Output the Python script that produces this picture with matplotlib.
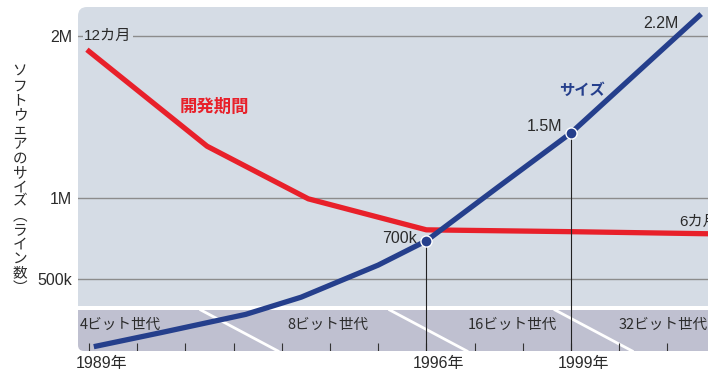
import matplotlib
matplotlib.use('Agg')
import matplotlib.pyplot as plt
from matplotlib.patches import FancyBboxPatch, Rectangle
from matplotlib.transforms import IdentityTransform, Affine2D, ScaledTranslation, blended_transform_factory

plt.rcParams['font.family'] = ['Liberation Sans', 'Noto Sans CJK JP', 'DejaVu Sans']
CJK = ['Noto Sans CJK JP', 'DejaVu Sans']

# software size (lines, in millions)
size_years = [1989.1, 1990.5, 1992.25, 1993.4, 1995.0, 1996.0, 1997.45, 1999.0, 2001.7]
size_mlines = [0.082, 0.169, 0.281, 0.387, 0.585, 0.735, 1.058, 1.400, 2.133]

# development period (months)
dev_years = [1989.0, 1991.45, 1993.55, 1996.0, 1999.0, 2001.9]
dev_months = [12.0, 8.88, 7.15, 6.13, 6.07, 6.0]

# highlighted points on the size curve
mark_years = [1996, 1999]
mark_values = [0.735, 1.400]
mark_labels = ['700k', '1.5M']

year_ticks = list(range(1989, 2002))
year_labels = [1989, 1996, 1999]

ytick_values = [0.5, 1.0, 2.0]
ytick_labels = ['500k', '1M', '2M']

generations = ['4ビット世代', '8ビット世代', '16ビット世代', '32ビット世代']
gen_bounds = [1991.32, 1995.24, 1998.67]

PANEL = '#d5dce5'
BAND = '#bfc0d0'
RED = '#e8202a'
BLUE = '#253f8c'
TXT = '#2b2b2b'

W, H = 708, 373
fig = plt.figure(figsize=(W / 100, H / 100), dpi=100)
ax = fig.add_axes([78 / W, (H - 351) / H, (W - 78) / W, 344 / H])
ax.patch.set_visible(False)
for s in ax.spines.values():
    s.set_visible(False)
ax.set_xlim(1988.772, 2001.842)
ax.set_ylim(0.0553, 2.1765)

# backgrounds, drawn in pixel space (top-left origin converted)
def px_box(x0, y0, x1, y1, color, r=0):
    if r:
        p = FancyBboxPatch((x0, H - y1), x1 - x0, y1 - y0,
                           boxstyle=f'round,pad=0,rounding_size={r}',
                           transform=IdentityTransform(), fc=color, ec='none',
                           clip_on=False, zorder=0)
    else:
        p = Rectangle((x0, H - y1), x1 - x0, y1 - y0, transform=IdentityTransform(),
                      fc=color, ec='none', clip_on=False, zorder=0)
    ax.add_patch(p)

px_box(78, 7, 760, 306, PANEL, r=9)
px_box(78, 60, 760, 306, PANEL)
px_box(78, 310, 760, 351, BAND, r=6)
px_box(78, 310, 760, 330, BAND)

band_top = (351 - 310) / 344
bt = blended_transform_factory(ax.transData, ax.transAxes)

# generation separators
for b in gen_bounds:
    ax.plot([b, b + 1.6], [band_top, 0], color='white', lw=2, transform=bt,
            clip_on=False, zorder=1)

gen_x = [1988.8, 1993.96, 1997.78, 2000.91]
gen_ha = ['left', 'center', 'center', 'center']
for g, x, ha in zip(generations, gen_x, gen_ha):
    ax.text(x, 0.0756, g, transform=bt, ha=ha, va='center', fontsize=10.5,
            color=TXT, zorder=2, family=CJK)

# year ticks inside the band
ax.vlines(year_ticks, 0, 8 / 344, transform=bt, color='#333333', lw=0.8, zorder=2)

# grid lines
for v in ytick_values:
    ax.axhline(v, color='#8c8c8c', lw=1, zorder=1)

ax.set_yticks(ytick_values)
ax.set_yticklabels(ytick_labels, fontsize=11.5, color=TXT)
ax.set_xticks(year_labels)
ax.set_xticklabels([f'{y}年' for y in year_labels], fontsize=11.5, color=TXT)
ax.tick_params(length=0)
ax.tick_params(axis='y', pad=4.3)
ax.tick_params(axis='x', pad=3.5)
for lab in ax.get_xticklabels():
    lab.set_transform(lab.get_transform() + ScaledTranslation(9 / 72, 0, fig.dpi_scale_trans))

# red line: months mapped onto the size axis (12 -> 1.903M, 6 -> 0.778M)
to_size = Affine2D().scale(1, 0.1875).translate(0, 0.778 - 6 * 0.1875) + ax.transData
ax.plot(dev_years, dev_months, color=RED, lw=3.8, transform=to_size,
        solid_joinstyle='round', zorder=3, clip_on=False)

# drop lines from marked points
ax.vlines(mark_years, 0.0553, mark_values, color='#222222', lw=0.8, zorder=3)

ax.plot(size_years, size_mlines, color=BLUE, lw=3.8, solid_joinstyle='round',
        solid_capstyle='butt', zorder=4)
ax.plot(mark_years, mark_values, 'o', ms=8, mfc=BLUE, mec='white', mew=1, zorder=5)

for x, v, t, off in zip(mark_years, mark_values, mark_labels, [(-7.2, 1.4), (-6.5, 4.3)]):
    ax.annotate(t, (x, v), xytext=off, textcoords='offset points', ha='right',
                va='center', fontsize=11.5, color=TXT, zorder=6)
ax.annotate('2.2M', (size_years[-1], size_mlines[-1]), xytext=(-16.5, -6.5),
            textcoords='offset points', ha='right', va='center', fontsize=11.5,
            color=TXT, zorder=6)

ax.text(1999.23, 1.667, 'サイズ', ha='center', va='center', fontsize=11,
        fontweight='bold', color=BLUE, zorder=6, family=CJK)
ax.text(1991.61, 1.561, '開発期間', ha='center', va='center', fontsize=12.5,
        fontweight='bold', color=RED, zorder=6, family=CJK)
ax.text(1988.9, 2.0, '12カ月', ha='left', va='center', fontsize=11, color=TXT,
        zorder=6, bbox=dict(boxstyle='square,pad=0.1', fc=PANEL, ec='none'))
ax.text(2001.24, 0.852, '6カ月', ha='left', va='center', fontsize=11, color=TXT,
        zorder=6, clip_on=False)

# vertical y label, one upright character per row
ylab = 'ソフトウェアのサイズ︵ライン数︶'
for i, ch in enumerate(ylab):
    fig.text(20 / W, 1 - (72 + i * 14.4) / H, ch, ha='center', va='center',
             fontsize=10.5, color=TXT, family=CJK)

fig.savefig('out.png', dpi=100)
